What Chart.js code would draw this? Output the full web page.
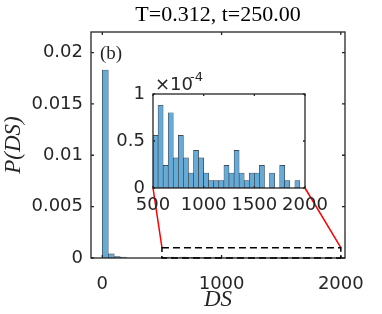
<!DOCTYPE html>
<html lang="en">
<head>
  <meta charset="UTF-8">
  <title>P(DS)</title>
  <style>
    body { margin: 0; background: #fff; }
    .caixa { position: relative; width: 382px; height: 314px; }
    .caixa canvas { position: absolute; left: 0; top: 0; }
  </style>
</head>
<body>
  <div class="caixa">
    <canvas id="grafico" width="382" height="314"></canvas>
    <canvas id="detalhe" width="382" height="314"></canvas>
  </div>
  <script src="https://cdn.jsdelivr.net/npm/chart.js"></script>
  <script>
    var larguraBin = 50;
    var binsPrincipal = [0, 50, 100, 150];
    var valoresPrincipal = [0.0183, 0.0004, 0.00015, 0.0001];

    // inset: valores em unidades de 1e-4
    var binsDetalhe = [500, 550, 600, 650, 700, 750, 800, 850, 900, 950,
      1000, 1050, 1100, 1150, 1200, 1250, 1300, 1350, 1400, 1450,
      1500, 1550, 1600, 1650, 1700, 1750, 1800, 1850, 1900, 1950];
    var valoresDetalhe = [0.56, 0.88, 0.24, 0.80, 0.32, 0.56, 0.32, 0.16, 0.40, 0.32,
      0.16, 0.08, 0.08, 0.08, 0.24, 0.16, 0.40, 0.16, 0.08, 0.16,
      0.16, 0.24, 0, 0.16, 0, 0.24, 0.08, 0, 0.08, 0];

    var ticksX = [0, 1000, 2000];
    var ticksY = [0, 0.005, 0.01, 0.015, 0.02];
    var rotulosY = ['0', '0.005', '0.01', '0.015', '0.02'];
    var ticksXDetalhe = [500, 1000, 1500, 2000];
    var ticksYDetalhe = [0, 0.5, 1];
    var rotulosYDetalhe = ['0', '0.5', '1'];

    var titulo = 'T=0.312, t=250.00';
    var zoomX = [500, 2000];
    var zoomY = [0, 0.001];

    var corBarra = '#66aad7';
    var corBorda = '#333333';
    var corEixo = '#262626';
    var fonteTicks = { family: 'DejaVu Sans', size: 18 };
    var fonteRotulo = { family: 'Liberation Serif', size: 23, style: 'italic' };

    function pontos(bins, valores, fator) {
      var lista = [];
      for (var i = 0; i < bins.length; i++) {
        lista.push({ x: bins[i] + larguraBin / 2, y: valores[i] * fator });
      }
      return lista;
    }

    function fixarTicks(valores) {
      return function (escala) {
        escala.ticks = valores.map(function (v) { return { value: v }; });
      };
    }

    function desenharCaixa(chart, tamanhoTick) {
      var ctx = chart.ctx, a = chart.chartArea;
      var sx = chart.scales.x, sy = chart.scales.y;
      ctx.save();
      ctx.strokeStyle = corEixo;
      ctx.lineWidth = 1.3;
      ctx.beginPath();
      sx.ticks.forEach(function (t) {
        var px = sx.getPixelForValue(t.value);
        ctx.moveTo(px, a.bottom); ctx.lineTo(px, a.bottom - tamanhoTick);
        ctx.moveTo(px, a.top); ctx.lineTo(px, a.top + tamanhoTick);
      });
      sy.ticks.forEach(function (t) {
        var py = sy.getPixelForValue(t.value);
        ctx.moveTo(a.left, py); ctx.lineTo(a.left + tamanhoTick, py);
        ctx.moveTo(a.right, py); ctx.lineTo(a.right - tamanhoTick, py);
      });
      ctx.stroke();
      ctx.strokeRect(a.left, a.top, a.right - a.left, a.bottom - a.top);
      ctx.restore();
    }

    // inset primeiro, para o gráfico principal saber onde ele fica
    var detalhe = new Chart(document.getElementById('detalhe'), {
      type: 'bar',
      data: {
        datasets: [{
          data: pontos(binsDetalhe, valoresDetalhe, 1),
          backgroundColor: corBarra,
          borderColor: corBorda,
          borderWidth: 0.6,
          borderSkipped: false,
          barPercentage: 1,
          categoryPercentage: 1
        }]
      },
      options: {
        responsive: false,
        animation: false,
        devicePixelRatio: 1,
        layout: { padding: { left: 100, right: 77, top: 94, bottom: 96 } },
        plugins: { legend: { display: false }, tooltip: { enabled: false } },
        scales: {
          x: {
            type: 'linear', min: 500, max: 2000, offset: false,
            afterBuildTicks: fixarTicks(ticksXDetalhe),
            afterFit: function (s) { s.height = 30; },
            grid: { display: false, drawTicks: false },
            border: { display: false },
            ticks: {
              font: fonteTicks, color: corEixo, padding: 7, maxRotation: 0, autoSkip: false,
              callback: function (v) { return String(v); }
            }
          },
          y: {
            min: 0, max: 1,
            afterBuildTicks: fixarTicks(ticksYDetalhe),
            afterFit: function (s) { s.width = 53; },
            grid: { display: false, drawTicks: false },
            border: { display: false },
            ticks: {
              font: fonteTicks, color: corEixo, padding: 8,
              callback: function (v, i) { return rotulosYDetalhe[i]; }
            }
          }
        }
      },
      plugins: [{
        id: 'caixaDetalhe',
        afterDraw: function (chart) {
          desenharCaixa(chart, 2);
          var ctx = chart.ctx, a = chart.chartArea;
          ctx.save();
          ctx.fillStyle = corEixo;
          ctx.textBaseline = 'alphabetic';
          ctx.font = '18px "DejaVu Sans"';
          ctx.fillText('\u00d710', a.left + 2, a.top - 4);
          ctx.font = '13px "DejaVu Sans"';
          ctx.fillText('-4', a.left + 37, a.top - 13);
          ctx.restore();
        }
      }]
    });

    var grafico = new Chart(document.getElementById('grafico'), {
      type: 'bar',
      data: {
        datasets: [{
          data: pontos(binsPrincipal, valoresPrincipal, 1).concat(pontos(binsDetalhe, valoresDetalhe, 1e-4)),
          backgroundColor: corBarra,
          borderColor: corBorda,
          borderWidth: 0.6,
          borderSkipped: false,
          barPercentage: 1,
          categoryPercentage: 1
        }]
      },
      options: {
        responsive: false,
        animation: false,
        devicePixelRatio: 1,
        layout: { padding: { left: 0, right: 37, top: 0, bottom: 0 } },
        plugins: {
          legend: { display: false },
          tooltip: { enabled: false },
          title: {
            display: true,
            text: titulo,
            fullSize: false,
            color: '#000',
            font: { family: 'Liberation Serif', size: 22, weight: 'normal' },
            padding: { top: 2, bottom: 3.6 }
          }
        },
        scales: {
          x: {
            type: 'linear', min: -95, max: 2035, offset: false,
            afterBuildTicks: fixarTicks(ticksX),
            afterFit: function (s) { s.height = 56; },
            grid: { display: false, drawTicks: false },
            border: { display: false },
            ticks: {
              font: fonteTicks, color: corEixo, padding: 16, maxRotation: 0, autoSkip: false,
              callback: function (v) { return String(v); }
            },
            title: {
              display: true, text: 'DS', color: corEixo,
              font: fonteRotulo,
              padding: { top: 0, bottom: 0 }
            }
          },
          y: {
            min: 0, max: 0.022,
            afterBuildTicks: fixarTicks(ticksY),
            afterFit: function (s) { s.width = 91; },
            grid: { display: false, drawTicks: false },
            border: { display: false },
            ticks: {
              font: fonteTicks, color: corEixo, padding: 8,
              callback: function (v, i) { return rotulosY[i]; }
            },
            title: {
              display: true, text: 'P(DS)', color: corEixo,
              font: fonteRotulo,
              padding: { top: 0, bottom: 0 }
            }
          }
        }
      },
      plugins: [{
        id: 'caixaPrincipal',
        afterDraw: function (chart) {
          desenharCaixa(chart, 3);
          var ctx = chart.ctx;
          var sx = chart.scales.x, sy = chart.scales.y;
          var d = detalhe.chartArea;
          var x0 = sx.getPixelForValue(zoomX[0]), x1 = sx.getPixelForValue(zoomX[1]);
          var y0 = sy.getPixelForValue(zoomY[0]), y1 = sy.getPixelForValue(zoomY[1]);
          ctx.save();
          // linhas vermelhas do inset até o retângulo
          ctx.strokeStyle = '#ff0000';
          ctx.lineWidth = 1.5;
          ctx.beginPath();
          ctx.moveTo(d.left, d.bottom); ctx.lineTo(x0, y1);
          ctx.moveTo(d.right, d.bottom); ctx.lineTo(x1, y1);
          ctx.stroke();
          // retângulo tracejado
          ctx.strokeStyle = '#000';
          ctx.setLineDash([7, 4]);
          ctx.strokeRect(x0, y1, x1 - x0, y0 - y1);
          ctx.setLineDash([]);
          // rótulo (b)
          ctx.fillStyle = '#262626';
          ctx.font = '19px "Liberation Serif"';
          ctx.textBaseline = 'middle';
          ctx.fillText('(b)', 100, 54);
          ctx.restore();
        }
      }]
    });
  </script>
</body>
</html>
